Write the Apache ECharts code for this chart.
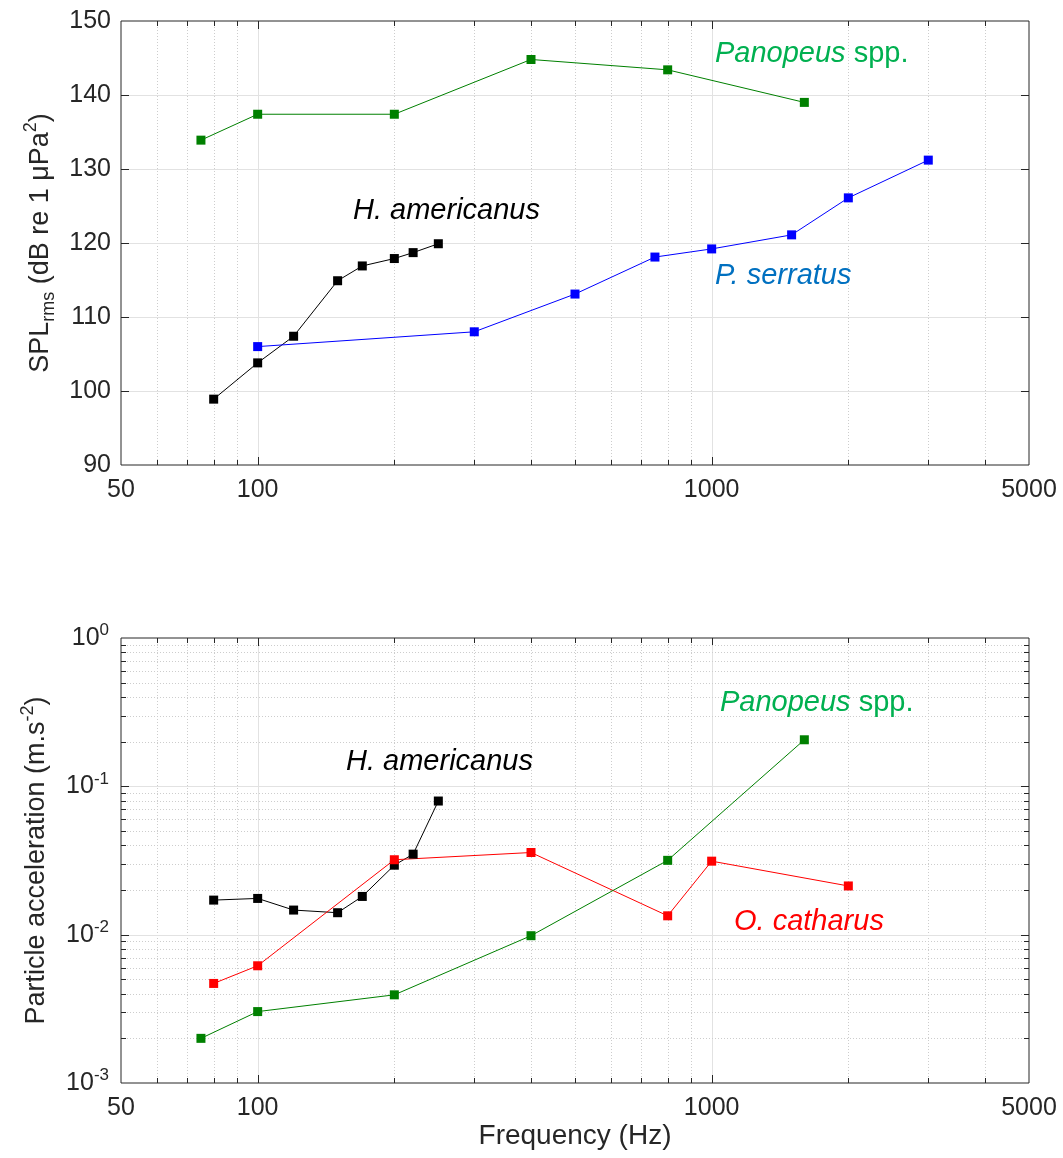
<!DOCTYPE html>
<html>
<head>
<meta charset="utf-8">
<title>SPL and particle acceleration thresholds</title>
<script src="https://cdn.jsdelivr.net/npm/echarts@6/dist/echarts.min.js"></script>
<style>
    html, body { margin: 0; padding: 0; background: #ffffff; }
    #chart { width: 1063px; height: 1158px; }
</style>
</head>
<body>
<div id="chart"></div>
<script>
// ---- data: top panel, SPLrms (dB re 1 uPa^2) ----
var freqPanopeusSpl = [75, 100, 200, 400, 800, 1600];
var splPanopeus = [133.9, 137.4, 137.4, 144.8, 143.4, 139.0];
var freqHomarusSpl = [80, 100, 120, 150, 170, 200, 220, 250];
var splHomarus = [98.9, 103.8, 107.4, 114.9, 116.9, 117.9, 118.7, 119.9];
var freqSerratus = [100, 300, 500, 750, 1000, 1500, 2000, 3000];
var splSerratus = [106.0, 108.0, 113.1, 118.1, 119.2, 121.1, 126.1, 131.2];

// ---- data: bottom panel, particle acceleration (m.s-2) ----
var freqPanopeusAcc = [75, 100, 200, 400, 800, 1600];
var accPanopeus = [0.0020, 0.00303, 0.00393, 0.00984, 0.0317, 0.206];
var freqHomarusAcc = [80, 100, 120, 150, 170, 200, 220, 250];
var accHomarus = [0.0171, 0.01755, 0.01465, 0.01406, 0.0181, 0.0294, 0.0349, 0.0796];
var freqCatharus = [80, 100, 200, 400, 800, 1000, 2000];
var accCatharus = [0.00469, 0.00617, 0.032, 0.0358, 0.0134, 0.0313, 0.0213];

// ---- ticks / grid lines ----
var freqMajorTicks = [100, 1000];
var freqMinorTicks = [60, 70, 80, 90, 200, 300, 400, 500, 600, 700, 800, 900, 2000, 3000, 4000];
var splTicks = [100, 110, 120, 130, 140];
var accMajorTicks = [0.01, 0.1];
var accMinorTicks = [0.002, 0.003, 0.004, 0.005, 0.006, 0.007, 0.008, 0.009,
    0.02, 0.03, 0.04, 0.05, 0.06, 0.07, 0.08, 0.09,
    0.2, 0.3, 0.4, 0.5, 0.6, 0.7, 0.8, 0.9];

var FONT = '"Liberation Sans", Arial, Helvetica, sans-serif';
var AXIS_COLOR = '#262626';

function pairs(xs, ys) {
    return xs.map(function (x, i) { return [x, ys[i]]; });
}

var majorGridStyle = { stroke: '#e2e2e2', lineWidth: 1 };
var minorGridStyle = { stroke: '#cdcdcd', lineWidth: 1, lineDash: [1, 2] };
var tickStyle = { stroke: AXIS_COLOR, lineWidth: 1 };

/**
 * vertical grid lines + ticks at top and bottom edge
 */
function renderVertical(params, api) {
    var cs = params.coordSys;
    var x = Math.round(api.coord([api.value(0), api.value(1)])[0]) + 0.5;
    var major = api.value(2) === 1;
    var len = major ? 8 : 5;
    var top = cs.y, bottom = cs.y + cs.height;
    return {
        type: 'group',
        children: [
            { type: 'line', shape: { x1: x, y1: top, x2: x, y2: bottom }, style: major ? majorGridStyle : minorGridStyle },
            { type: 'line', shape: { x1: x, y1: bottom, x2: x, y2: bottom - len }, style: tickStyle },
            { type: 'line', shape: { x1: x, y1: top, x2: x, y2: top + len }, style: tickStyle }
        ]
    };
}

/**
 * horizontal grid lines + ticks at left and right edge
 */
function renderHorizontal(params, api) {
    var cs = params.coordSys;
    var y = Math.round(api.coord([api.value(0), api.value(1)])[1]) + 0.5;
    var major = api.value(2) === 1;
    var len = major ? 8 : 5;
    var left = cs.x, right = cs.x + cs.width;
    return {
        type: 'group',
        children: [
            { type: 'line', shape: { x1: left, y1: y, x2: right, y2: y }, style: major ? majorGridStyle : minorGridStyle },
            { type: 'line', shape: { x1: left, y1: y, x2: left + len, y2: y }, style: tickStyle },
            { type: 'line', shape: { x1: right, y1: y, x2: right - len, y2: y }, style: tickStyle }
        ]
    };
}

function verticalData(majors, minors, yAnchor) {
    return majors.map(function (v) { return [v, yAnchor, 1]; })
        .concat(minors.map(function (v) { return [v, yAnchor, 0]; }));
}

function horizontalData(majors, minors, xAnchor) {
    return majors.map(function (v) { return [xAnchor, v, 1]; })
        .concat(minors.map(function (v) { return [xAnchor, v, 0]; }));
}

function dataLine(name, idx, data, color) {
    return {
        name: name,
        type: 'line',
        xAxisIndex: idx,
        yAxisIndex: idx,
        data: data,
        z: 3,
        symbol: 'rect',
        symbolSize: 9,
        showAllSymbol: true,
        lineStyle: { color: color, width: 1 },
        itemStyle: { color: color, borderColor: color, borderWidth: 0 },
        emphasis: { disabled: true },
        animation: false
    };
}

function annotation(x, y, text, color) {
    return {
        type: 'text',
        x: x,
        y: y,
        z: 10,
        style: {
            text: text,
            fill: color,
            font: '29px ' + FONT,
            verticalAlign: 'middle',
            align: 'left',
            rich: {
                i: { font: 'italic 29px ' + FONT, fill: color },
                n: { font: '29px ' + FONT, fill: color }
            }
        }
    };
}

var axisLabelBase = { color: AXIS_COLOR, fontSize: 25, fontFamily: FONT };

var myChart = echarts.init(document.getElementById('chart'), null, { renderer: 'canvas' });

var option = {
    animation: false,
    backgroundColor: '#ffffff',
    textStyle: { fontFamily: FONT },
    grid: [
        { left: 121, top: 21, width: 908, height: 444, show: true, borderColor: AXIS_COLOR, borderWidth: 1, backgroundColor: '#ffffff', containLabel: false, outerBoundsMode: 'none' },
        { left: 121, top: 638, width: 908, height: 445, show: true, borderColor: AXIS_COLOR, borderWidth: 1, backgroundColor: '#ffffff', containLabel: false, outerBoundsMode: 'none' }
    ],
    xAxis: [
        {
            gridIndex: 0, type: 'log', logBase: 10, min: 50, max: 5000,
            axisLine: { show: false }, axisTick: { show: false }, splitLine: { show: false },
            axisLabel: Object.assign({ margin: 13, showMinLabel: true, showMaxLabel: true,
                formatter: function (v) { return String(Math.round(v)); } }, axisLabelBase)
        },
        {
            gridIndex: 1, type: 'log', logBase: 10, min: 50, max: 5000,
            name: 'Frequency (Hz)', nameLocation: 'middle', nameGap: 37,
            nameTextStyle: { color: AXIS_COLOR, fontSize: 28, fontFamily: FONT },
            axisLine: { show: false }, axisTick: { show: false }, splitLine: { show: false },
            axisLabel: Object.assign({ margin: 13, showMinLabel: true, showMaxLabel: true,
                formatter: function (v) { return String(Math.round(v)); } }, axisLabelBase)
        }
    ],
    yAxis: [
        {
            gridIndex: 0, type: 'value', min: 90, max: 150, interval: 10,
            name: 'SPL{sub|rms} (dB re 1 μPa{sup|2})', nameLocation: 'middle', nameRotate: 90, nameGap: 62,
            nameTextStyle: {
                color: AXIS_COLOR, fontSize: 27, fontFamily: FONT, lineHeight: 36,
                rich: {
                    sub: { fontSize: 18, fontFamily: FONT, color: AXIS_COLOR, verticalAlign: 'bottom', lineHeight: 18 },
                    sup: { fontSize: 18, fontFamily: FONT, color: AXIS_COLOR, verticalAlign: 'top', lineHeight: 18 }
                }
            },
            axisLine: { show: false }, axisTick: { show: false }, splitLine: { show: false },
            axisLabel: Object.assign({ margin: 10, showMinLabel: true, showMaxLabel: true }, axisLabelBase)
        },
        {
            gridIndex: 1, type: 'log', logBase: 10, min: 0.001, max: 1,
            name: 'Particle acceleration (m.s{sup|-2})', nameLocation: 'middle', nameRotate: 90, nameGap: 66,
            nameTextStyle: {
                color: AXIS_COLOR, fontSize: 27, fontFamily: FONT, lineHeight: 36,
                rich: {
                    sup: { fontSize: 18, fontFamily: FONT, color: AXIS_COLOR, verticalAlign: 'top', lineHeight: 18 }
                }
            },
            axisLine: { show: false }, axisTick: { show: false }, splitLine: { show: false },
            axisLabel: {
                margin: 12, showMinLabel: true, showMaxLabel: true,
                formatter: function (v) {
                    return '{b|10}{e|' + Math.round(Math.log(v) / Math.LN10) + '}';
                },
                rich: {
                    b: { color: AXIS_COLOR, fontSize: 25, fontFamily: FONT, lineHeight: 32 },
                    e: { color: AXIS_COLOR, fontSize: 17, fontFamily: FONT, verticalAlign: 'top', lineHeight: 17 }
                }
            }
        }
    ],
    series: [
        // grid lines and ticks, drawn under the data
        { type: 'custom', xAxisIndex: 0, yAxisIndex: 0, z: 1, silent: true, clip: false,
          renderItem: renderVertical, data: verticalData(freqMajorTicks, freqMinorTicks, 90) },
        { type: 'custom', xAxisIndex: 0, yAxisIndex: 0, z: 1, silent: true, clip: false,
          renderItem: renderHorizontal, data: horizontalData(splTicks, [], 50) },
        { type: 'custom', xAxisIndex: 1, yAxisIndex: 1, z: 1, silent: true, clip: false,
          renderItem: renderVertical, data: verticalData(freqMajorTicks, freqMinorTicks, 0.001) },
        { type: 'custom', xAxisIndex: 1, yAxisIndex: 1, z: 1, silent: true, clip: false,
          renderItem: renderHorizontal, data: horizontalData(accMajorTicks, accMinorTicks, 50) },

        dataLine('H. americanus SPL', 0, pairs(freqHomarusSpl, splHomarus), '#000000'),
        dataLine('P. serratus SPL', 0, pairs(freqSerratus, splSerratus), '#0000ff'),
        dataLine('Panopeus SPL', 0, pairs(freqPanopeusSpl, splPanopeus), '#008000'),

        dataLine('H. americanus acc', 1, pairs(freqHomarusAcc, accHomarus), '#000000'),
        dataLine('O. catharus acc', 1, pairs(freqCatharus, accCatharus), '#ff0000'),
        dataLine('Panopeus acc', 1, pairs(freqPanopeusAcc, accPanopeus), '#008000')
    ],
    graphic: [
        annotation(715, 54, '{i|Panopeus}{n| spp.}', '#00b050'),
        annotation(715, 276, '{i|P. serratus}', '#0070c0'),
        annotation(353, 211, '{i|H. americanus}', '#000000'),
        annotation(720, 703, '{i|Panopeus}{n| spp.}', '#00b050'),
        annotation(346, 762, '{i|H. americanus}', '#000000'),
        annotation(734, 922, '{i|O. catharus}', '#ff0000')
    ]
};

myChart.setOption(option);
</script>
</body>
</html>
